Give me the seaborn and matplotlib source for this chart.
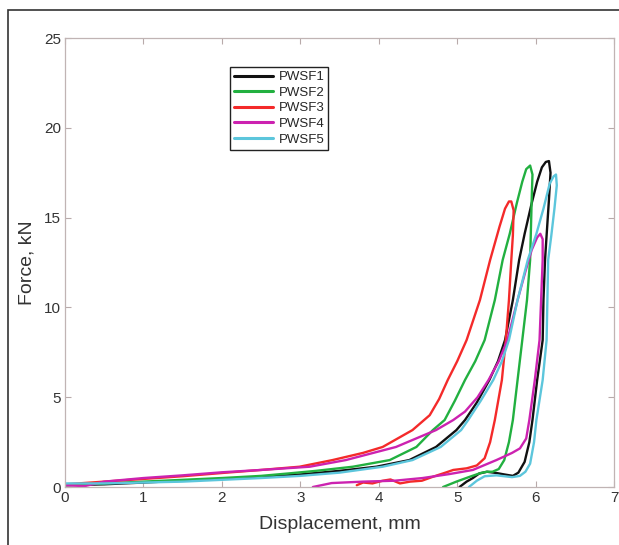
import numpy as np
import pandas as pd
import matplotlib
matplotlib.use("Agg")
import matplotlib.pyplot as plt
import seaborn as sns
from matplotlib.patches import Rectangle

series_names = ["PWSF1", "PWSF2", "PWSF3", "PWSF4", "PWSF5"]
series_colors = ["#111111", "#22b040", "#f42a2a", "#cc22b0", "#5cc6dc"]

# PWSF1 (black): loading then unloading
x1 = [0, 0.5, 1, 1.5, 2, 2.5, 3, 3.5, 3.97, 4.39, 4.73, 4.99, 5.1, 5.25, 5.41, 5.52, 5.61, 5.71, 5.79, 5.86, 5.95,
      6.02, 6.08, 6.13, 6.17,
      6.19, 6.17, 6.14, 6.12, 6.1, 6.09, 6.02, 5.96, 5.92, 5.86, 5.78, 5.71, 5.6, 5.5, 5.38, 5.28, 5.2, 5.12, 5.03]
y1 = [0.1, 0.15, 0.25, 0.35, 0.45, 0.55, 0.7, 0.9, 1.13, 1.5, 2.23, 3.17, 3.73, 4.7, 5.96, 7.0, 8.18, 10.41, 12.64,
      14.1, 15.8, 17.0, 17.8, 18.1, 18.15,
      17.5, 16.0, 14.0, 12.64, 10.41, 8.18, 5.96, 3.73, 2.5, 1.4, 0.8, 0.62, 0.7, 0.78, 0.85, 0.75, 0.5, 0.3, 0.0]

# PWSF2 (green)
x2 = [0, 0.5, 1, 1.5, 2, 2.5, 2.86, 3.2, 3.67, 4.14, 4.48, 4.69, 4.84, 4.97, 5.1, 5.23, 5.35, 5.48, 5.58, 5.67,
      5.76, 5.83, 5.88, 5.93,
      5.96, 5.95, 5.93, 5.89, 5.83, 5.77, 5.71, 5.66, 5.6, 5.53, 5.45, 5.38, 5.3, 5.16, 4.99, 4.82]
y2 = [0.1, 0.2, 0.3, 0.4, 0.5, 0.62, 0.76, 0.9, 1.13, 1.5, 2.23, 3.17, 3.73, 4.8, 5.96, 7.0, 8.18, 10.41, 12.64, 14.1,
      15.8, 17.0, 17.7, 17.9,
      17.4, 16.0, 12.64, 10.41, 8.18, 5.96, 3.73, 2.5, 1.5, 1.0, 0.85, 0.85, 0.78, 0.57, 0.3, 0.0]

# PWSF3 (red)
x3 = [0, 0.5, 1, 1.5, 2, 2.5, 2.99, 3.41, 3.8, 4.05, 4.43, 4.65, 4.77, 4.88, 5.0, 5.12, 5.29, 5.42, 5.54, 5.61,
      5.66, 5.69,
      5.72, 5.71, 5.69, 5.66, 5.62, 5.57, 5.48, 5.42, 5.35, 5.25, 5.12, 4.95, 4.85, 4.69, 4.55, 4.4, 4.27, 4.15,
      4.05, 3.92, 3.8, 3.72]
y3 = [0.15, 0.3, 0.45, 0.6, 0.78, 0.95, 1.13, 1.5, 1.9, 2.23, 3.17, 4.0, 4.9, 5.96, 7.0, 8.18, 10.41, 12.64, 14.5,
      15.5, 15.9, 15.9,
      15.4, 14.0, 12.64, 10.41, 8.18, 5.96, 3.73, 2.5, 1.6, 1.2, 1.04, 0.95, 0.8, 0.57, 0.35, 0.3, 0.2, 0.42, 0.35,
      0.2, 0.25, 0.1]

# PWSF4 (magenta)
x4 = [0, 0.25, 0.5, 1, 1.5, 2, 2.5, 3.12, 3.58, 4.22, 4.73, 4.95, 5.1, 5.26, 5.4, 5.53, 5.64, 5.77, 5.87, 5.95,
      6.02, 6.06,
      6.09, 6.09, 6.07, 6.05, 5.99, 5.92, 5.88, 5.8, 5.7, 5.5, 5.2, 4.9, 4.56, 4.2, 3.8, 3.4, 3.16]
y4 = [0.1, 0.05, 0.3, 0.5, 0.65, 0.82, 0.95, 1.13, 1.5, 2.23, 3.17, 3.73, 4.2, 5.0, 5.96, 7.0, 8.18, 10.41, 12.0,
      13.2, 13.9, 14.1,
      13.8, 12.64, 10.41, 8.18, 5.96, 3.73, 2.7, 2.15, 1.9, 1.5, 0.95, 0.72, 0.5, 0.35, 0.3, 0.22, 0.0]

# PWSF5 (cyan)
x5 = [0, 0.5, 1, 1.5, 2, 2.5, 3, 3.5, 4.05, 4.43, 4.79, 5.05, 5.14, 5.3, 5.46, 5.57, 5.66, 5.77, 5.9, 6.01, 6.1,
      6.18, 6.23, 6.26,
      6.27, 6.24, 6.2, 6.16, 6.15, 6.14, 6.09, 6.01, 5.98, 5.93, 5.87, 5.8, 5.7, 5.5, 5.35, 5.25, 5.15]
y5 = [0.2, 0.2, 0.25, 0.3, 0.4, 0.5, 0.62, 0.8, 1.13, 1.5, 2.23, 3.17, 3.73, 4.8, 5.96, 7.0, 8.18, 10.41, 12.64,
      14.1, 15.5, 16.9, 17.3, 17.4,
      16.8, 15.5, 14.0, 12.64, 10.41, 8.18, 5.96, 3.73, 2.5, 1.3, 0.85, 0.62, 0.55, 0.65, 0.6, 0.35, 0.0]

xs = [x1, x2, x3, x4, x5]
ys = [y1, y2, y3, y4, y5]

x_ticks = [0, 1, 2, 3, 4, 5, 6, 7]
y_ticks = [0, 5, 10, 15, 20, 25]

frames = []
for name, xv, yv in zip(series_names, xs, ys):
    frames.append(pd.DataFrame({"x": xv, "y": yv, "series": name}))
df = pd.concat(frames, ignore_index=True)

sns.set_style("ticks")
plt.rcParams["font.family"] = ["Liberation Sans", "DejaVu Sans"]

fig = plt.figure(figsize=(6.19, 5.45), dpi=100)
ax = fig.add_axes([0.105, 0.1064, 0.887, 0.8238])

sns.lineplot(data=df, x="x", y="y", hue="series", hue_order=series_names,
             palette=dict(zip(series_names, series_colors)), sort=False, estimator=None,
             units="series", linewidth=1.7, ax=ax, legend=True)

ax.set_xlim(0, 7)
ax.set_ylim(0, 25)
ax.set_xticks(x_ticks)
ax.set_yticks(y_ticks)
ax.tick_params(direction="in", length=4, width=0.8, color="#b8aaaa", labelsize=11,
               labelcolor="#333333", top=True, right=True, pad=3)
for s in ax.spines.values():
    s.set_color("#c0b4b4")
    s.set_linewidth(0.9)
ax.set_xlabel("Displacement, mm", fontsize=14, color="#333333", labelpad=8)
ax.set_ylabel("Force, kN", fontsize=14, color="#333333", labelpad=6)

leg = ax.legend(loc="upper left", bbox_to_anchor=(0.30, 0.935), borderaxespad=0,
                fontsize=9.5, handlelength=3.0, handletextpad=0.4, labelspacing=0.25,
                borderpad=0.3, frameon=True, fancybox=False)
leg.get_frame().set_edgecolor("#222222")
leg.get_frame().set_linewidth(1.0)
leg.get_frame().set_alpha(1)
for line in leg.get_lines():
    line.set_linewidth(2.2)

fig.patches.append(Rectangle((8 / 619, -0.05), 1.2, 1 - 10 / 545 + 0.05, transform=fig.transFigure,
                             fill=False, edgecolor="#333333", linewidth=1.2, zorder=0))

fig.savefig("out.png", dpi=100)
